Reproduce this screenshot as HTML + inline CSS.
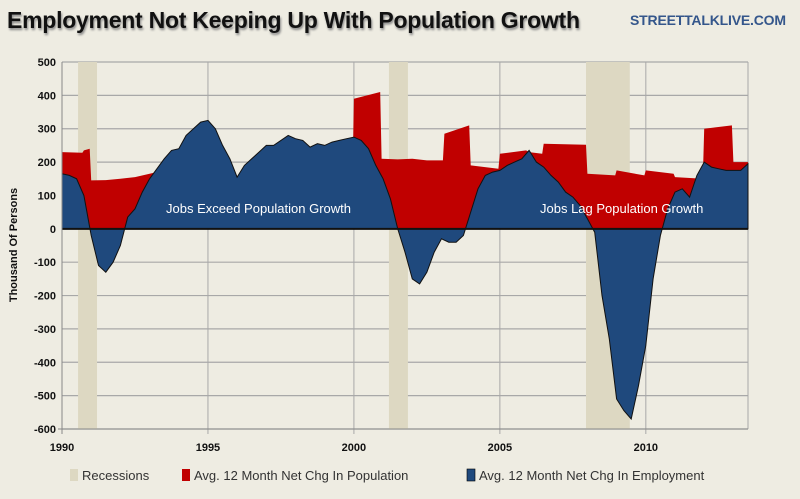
<!DOCTYPE html>
<html><head><meta charset="utf-8"><style>
body{margin:0;background:#fff;}
svg{display:block;font-family:"Liberation Sans",sans-serif;}
</style></head><body>
<svg id="chart" width="800" height="499" viewBox="0 0 800 499">
<rect x="0" y="0" width="800" height="499" fill="#eeece2"/>
<text x="7" y="28" font-size="23" font-weight="bold" fill="#111" style="text-shadow:1px 2px 2px #888" textLength="573">Employment Not Keeping Up With Population Growth</text>
<text x="630" y="25" font-size="14" font-weight="bold" fill="#34568b" textLength="156">STREETTALKLIVE.COM</text>
<g id="grid"></g>
<g id="rec"></g>
<g id="areas"></g>
<g id="axes"></g>
<text transform="translate(17,245) rotate(-90)" text-anchor="middle" font-size="11" font-weight="bold" fill="#111">Thousand Of Persons</text>
<text x="166" y="213" font-size="13" fill="#fff">Jobs Exceed Population Growth</text>
<text x="540" y="213" font-size="13" fill="#fff">Jobs Lag Population Growth</text>
<g>
<rect x="70" y="469" width="8" height="12" fill="#ddd8c2"/>
<text x="82" y="480" font-size="13" fill="#333">Recessions</text>
<rect x="182" y="469" width="8" height="12" fill="#c00000"/>
<text x="194" y="480" font-size="13" fill="#333">Avg. 12 Month Net Chg In Population</text>
<rect x="467" y="469" width="8" height="12" fill="#1f497d" stroke="#000" stroke-width="0.6"/>
<text x="479" y="480" font-size="13" fill="#333">Avg. 12 Month Net Chg In Employment</text>
</g>
</svg>
<script>
const yTicks=[500,400,300,200,100,0,-100,-200,-300,-400,-500,-600];
const xTicks=[1990,1995,2000,2005,2010];
const recessionStart=[1990.55,2001.2,2007.95];
const recessionEnd=[1991.2,2001.85,2009.45];
const popYears=[1990,1990.7,1990.75,1990.95,1991.0,1991.5,1992,1992.5,1993,1993.5,1994,1995,1996,1997,1998,1999,1999.95,2000,2000.9,2000.95,2001.5,2002,2002.5,2003.05,2003.1,2003.95,2004,2004.95,2005,2005.9,2006.0,2006.45,2006.5,2007.95,2008,2008.95,2009,2009.95,2010,2010.95,2011,2011.95,2012,2012.95,2013,2013.5];
const popValues=[230,228,235,240,145,146,150,155,165,175,175,150,150,150,150,150,150,390,410,210,208,210,205,205,285,310,190,180,225,235,230,225,255,252,165,160,175,160,175,165,155,150,300,310,200,200];
const empYears=[1990,1990.25,1990.5,1990.75,1991,1991.25,1991.5,1991.75,1992,1992.25,1992.5,1992.75,1993,1993.25,1993.5,1993.75,1994,1994.25,1994.5,1994.75,1995,1995.25,1995.5,1995.75,1996,1996.25,1996.5,1996.75,1997,1997.25,1997.5,1997.75,1998,1998.25,1998.5,1998.75,1999,1999.25,1999.5,1999.75,2000,2000.25,2000.5,2000.75,2001,2001.25,2001.5,2001.75,2002,2002.25,2002.5,2002.75,2003,2003.25,2003.5,2003.75,2004,2004.25,2004.5,2004.75,2005,2005.25,2005.5,2005.75,2006,2006.25,2006.5,2006.75,2007,2007.25,2007.5,2007.75,2008,2008.25,2008.5,2008.75,2009,2009.25,2009.5,2009.75,2010,2010.25,2010.5,2010.75,2011,2011.25,2011.5,2011.75,2012,2012.25,2012.5,2012.75,2013,2013.25,2013.5];
const empValues=[165,160,150,100,-20,-110,-130,-100,-50,35,60,110,150,180,210,235,240,280,300,320,325,300,250,210,155,190,210,230,250,250,265,280,270,265,245,255,250,260,265,270,275,265,240,190,150,90,0,-70,-150,-165,-130,-70,-30,-40,-40,-20,50,120,160,170,175,190,200,210,235,200,185,160,140,110,95,70,30,-10,-200,-330,-510,-545,-570,-470,-350,-150,-20,60,110,120,95,160,200,185,180,175,175,175,195];
const X0=62,X1=748,Y500=62,Ym600=429;
const xs=y=>X0+(y-1990)/(2013.5-1990)*(X1-X0);
const ys=v=>Y500+(500-v)/1100*(Ym600-Y500);
const NS="http://www.w3.org/2000/svg";
function mk(tag,attrs,parent){const e=document.createElementNS(NS,tag);for(const k in attrs)e.setAttribute(k,attrs[k]);parent.appendChild(e);return e;}
const grid=document.getElementById('grid'),rec=document.getElementById('rec'),areas=document.getElementById('areas'),axes=document.getElementById('axes');
yTicks.forEach(v=>{
 const l=mk('line',{x1:X0,x2:X1,y1:ys(v),y2:ys(v),stroke:'#a8a8a8','stroke-width':1.2},grid);
 
 
 const t=mk('text',{x:X0-6,y:ys(v)+4,'text-anchor':'end','font-size':11,'font-weight':'bold',fill:'#111'},axes);
 t.textContent=v;
 
 
});
xTicks.forEach(yr=>{
 const l=mk('line',{x1:xs(yr),x2:xs(yr),y1:Y500,y2:Ym600+5,stroke:'#a8a8a8','stroke-width':1},grid);
 
 
 const t=mk('text',{x:xs(yr),y:Ym600+22,'text-anchor':'middle','font-size':11,'font-weight':'bold',fill:'#111'},axes);
 t.textContent=yr;
 
 
});
mk('line',{x1:X1,x2:X1,y1:Y500,y2:Ym600,stroke:'#a8a8a8'},grid);
recessionStart.forEach((s,i)=>{
 const r=mk('rect',{x:xs(s),y:Y500,width:xs(recessionEnd[i])-xs(s),height:Ym600-Y500,fill:'#ddd8c2'},rec);
 
 
});
function areaPath(xsArr,vs){let d='M'+xs(xsArr[0])+','+ys(0);xsArr.forEach((x,i)=>d+='L'+xs(x).toFixed(1)+','+ys(vs[i]).toFixed(1));d+='L'+xs(xsArr[xsArr.length-1])+','+ys(0)+'Z';return d;}
const pa=mk('path',{d:areaPath(popYears,popValues),fill:'#c00000'},areas);


const ea=mk('path',{d:areaPath(empYears,empValues),fill:'#1f497d',stroke:'#111','stroke-width':1},areas);


const z=mk('line',{x1:X0,x2:X1,y1:ys(0),y2:ys(0),stroke:'#111','stroke-width':2},areas);


mk('line',{x1:X0,x2:X0,y1:Y500,y2:Ym600+5,stroke:'#888'},axes);
mk('line',{x1:X0-4,x2:X1,y1:Ym600,y2:Ym600,stroke:'#888'},axes);
</script>
</body></html>
